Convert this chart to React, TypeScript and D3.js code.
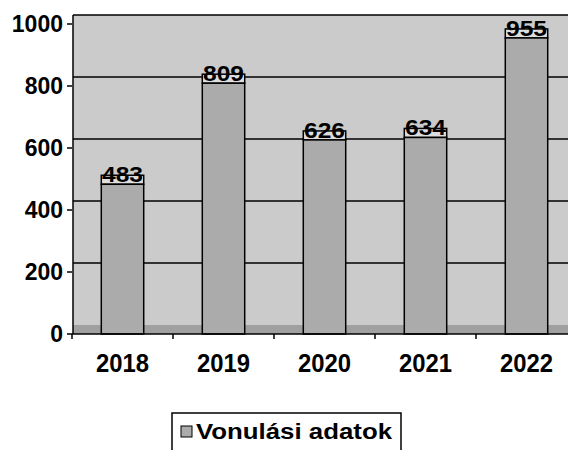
import React from "react";
import * as d3 from "d3";

const categories = ["2018", "2019", "2020", "2021", "2022"];
const values = [483, 809, 626, 634, 955];
const yTicks = [0, 200, 400, 600, 800, 1000];
const seriesName = "Vonulási adatok";

export default function App() {
  const W = 568, H = 450;
  const depth = 9;
  const x = d3.scaleBand<string>().domain(categories).range([72, 577]).paddingInner(0.58).paddingOuter(0.29);
  const xb = d3.scaleBand<string>().domain(categories).range([72, 577]);
  const y = d3.scaleLinear().domain([0, 1000]).range([334, 24]);
  const font = "Arial, 'Liberation Sans', sans-serif";
  return (
    <svg width={W} height={H} style={{ position: "absolute", left: 0, top: 0 }}>
      <rect width={W} height={H} fill="#fff" />
      {/* back wall */}
      <rect x={73} y={y(1000) - depth} width={W - 73} height={y(0) - y(1000)} fill="#cbcbcb" />
      {/* floor */}
      <rect x={73} y={y(0) - depth} width={W - 73} height={depth} fill="#a0a0a0" />
      {/* gridlines on back wall */}
      {yTicks.filter(t => t > 0).map(t => (
        <line key={t} x1={73} x2={W} y1={y(t) - depth} y2={y(t) - depth} stroke="#000" strokeWidth={1.5} />
      ))}
      <line x1={73} x2={73} y1={y(1000) - depth} y2={y(0)} stroke="#000" strokeWidth={1.5} />
      {/* bars */}
      {categories.map((c, i) => {
        const bx = x(c)!;
        const bw = x.bandwidth();
        const top = y(values[i]);
        return (
          <g key={c}>
            <rect x={bx} y={top - depth} width={bw} height={depth} fill="#dedede" stroke="#000" strokeWidth={1.5} />
            <rect x={bx} y={top} width={bw} height={y(0) - top} fill="#ababab" stroke="#000" strokeWidth={1.5} />
            <text x={bx + bw / 2} y={top - 2} textAnchor="middle" fontFamily={font} fontWeight="bold" fontSize={22}
              textLength={41} lengthAdjust="spacingAndGlyphs">{values[i]}</text>
          </g>
        );
      })}
      {/* axes */}
      <line x1={72} x2={W} y1={y(0)} y2={y(0)} stroke="#000" strokeWidth={1.5} />
      {yTicks.map(t => (
        <g key={t}>
          <line x1={67} x2={72} y1={y(t)} y2={y(t)} stroke="#000" strokeWidth={1.5} />
          <text x={63} y={y(t) + 8} textAnchor="end" fontFamily={font} fontWeight="bold" fontSize={23}>{t}</text>
        </g>
      ))}
      {categories.map(c => (
        <g key={c}>
          <line x1={xb(c)!} x2={xb(c)!} y1={y(0)} y2={y(0) + 5} stroke="#000" strokeWidth={1.5} />
          <text x={xb(c)! + xb.bandwidth() / 2} y={372} textAnchor="middle" fontFamily={font} fontWeight="bold" fontSize={25}
            textLength={53} lengthAdjust="spacingAndGlyphs">{c}</text>
        </g>
      ))}
      {/* legend */}
      <rect x={172} y={413} width={229} height={50} fill="#fff" stroke="#000" strokeWidth={1.5} />
      <rect x={181} y={426} width={11} height={11} fill="#ababab" stroke="#000" strokeWidth={1} />
      <text x={196} y={439} fontFamily={font} fontWeight="bold" fontSize={22}
        textLength={196} lengthAdjust="spacingAndGlyphs">{seriesName}</text>
    </svg>
  );
}
